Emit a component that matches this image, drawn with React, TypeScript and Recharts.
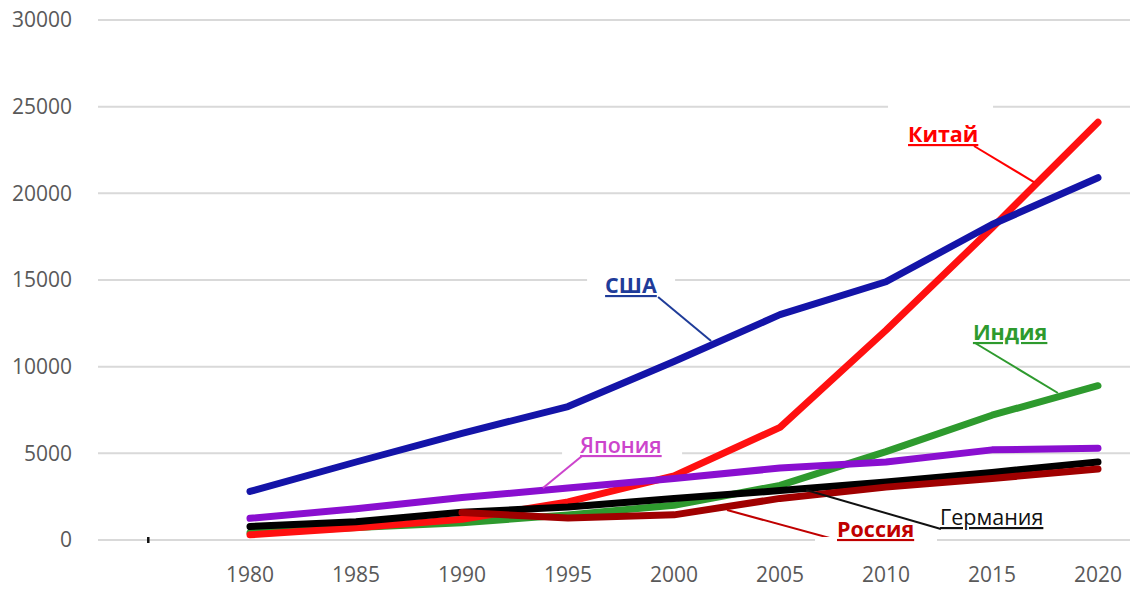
import { LineChart, Line, XAxis, YAxis, CartesianGrid, ReferenceLine, ReferenceDot } from 'recharts';

const years = [1980, 1985, 1990, 1995, 2000, 2005, 2010, 2015, 2020];
const usa = [2800, 4500, 6150, 7700, 10300, 13000, 14900, 18200, 20900];
const china = [300, 700, 1200, 2200, 3700, 6500, 12100, 18000, 24100];
const india = [420, 720, 1000, 1450, 2000, 3150, 5100, 7200, 8900];
const japan = [1250, 1800, 2450, 3000, 3550, 4150, 4500, 5200, 5300];
const germany = [780, 1050, 1600, 1900, 2400, 2850, 3350, 3900, 4500];
const russia = [null, null, 1580, 1270, 1450, 2400, 3050, 3550, 4100];
const yTicks = [0, 5000, 10000, 15000, 20000, 25000, 30000];

const data = years.map((year, i) => ({
  year,
  usa: usa[i],
  china: china[i],
  india: india[i],
  japan: japan[i],
  germany: germany[i],
  russia: russia[i],
}));

const FONT = '"Open Sans", sans-serif';

// callout labels: anchor = text start / baseline, leader goes from -> to
const notes = [
  { text: 'США', color: '#1f3c99', weight: 700, x: 1996.75, y: 14250, from: [1999.25, 14020], to: [2001.75, 11480], box: [-18, -19, 88, 12] },
  { text: 'Китай', color: '#ff0000', weight: 700, x: 2011.04, y: 22960, from: [2014.15, 22730], to: [2016.98, 20650], box: [-20, -40, 105, 10] },
  { text: 'Индия', color: '#2e9a2e', weight: 700, x: 2014.1, y: 11540, from: [2014.2, 11365], to: [2018.11, 8480], box: null },
  { text: 'Япония', color: '#cc44cc', weight: 600, x: 1995.57, y: 5020, from: [1995.66, 4846], to: [1993.82, 3000], box: [-18, -3, 120, 6] },
  { text: 'Германия', color: '#111111', weight: 500, x: 2012.55, y: 865, from: [2012.59, 635], to: [2006.23, 2885], box: null },
  { text: 'Россия', color: '#c00000', weight: 700, x: 2007.69, y: 175, from: [2007.69, 0], to: [2002.5, 1730], box: [-22, 0, 122, 7] },
];

function NoteLabel(props: any) {
  const { cx, cy, note } = props;
  return (
    <g>
      {note.box && (
        <rect x={cx + note.box[0]} y={cy + note.box[1]} width={note.box[2]} height={note.box[3]} fill="#ffffff" />
      )}
      <text
        x={cx}
        y={cy}
        fill={note.color}
        fontFamily={FONT}
        fontSize={21.5}
        fontWeight={note.weight}
        style={{ textDecoration: 'underline' }}
      >
        {note.text}
      </text>
    </g>
  );
}

export default function App() {
  return (
    <div style={{ position: 'absolute', left: 0, top: 0, background: '#fff' }}>
      <LineChart width={1133} height={590} data={data} margin={{ top: 20, right: 3, bottom: 0, left: 8 }}>
        <CartesianGrid horizontal vertical={false} stroke="#d9d9d9" strokeWidth={2} />
        <XAxis
          dataKey="year"
          type="number"
          domain={[1972.83, 2021.51]}
          ticks={years}
          allowDataOverflow
          axisLine={false}
          tickLine={false}
          height={50}
          tickMargin={21}
          tick={{ fill: '#595959', fontSize: 21, fontFamily: FONT }}
        />
        <YAxis
          domain={[0, 30000]}
          ticks={yTicks}
          width={90}
          axisLine={false}
          tickLine={false}
          tickMargin={20}
          tick={{ fill: '#595959', fontSize: 21, fontFamily: FONT }}
        />
        <ReferenceDot
          x={1975.19}
          y={0}
          r={2}
          shape={(p: any) => <rect x={p.cx - 1} y={p.cy - 3} width={2.5} height={6} fill="#111" />}
        />
        <Line type="linear" dataKey="india" stroke="#2e9a2e" strokeWidth={7} dot={false} strokeLinecap="round" strokeLinejoin="round" isAnimationActive={false} />
        <Line type="linear" dataKey="china" stroke="#ff1010" strokeWidth={7} dot={false} strokeLinecap="round" strokeLinejoin="round" isAnimationActive={false} />
        <Line type="linear" dataKey="germany" stroke="#000000" strokeWidth={7} dot={false} strokeLinecap="round" strokeLinejoin="round" isAnimationActive={false} />
        <Line type="linear" dataKey="russia" stroke="#a00000" strokeWidth={7} dot={false} strokeLinecap="round" strokeLinejoin="round" isAnimationActive={false} />
        <Line type="linear" dataKey="japan" stroke="#8a0fd0" strokeWidth={7} dot={false} strokeLinecap="round" strokeLinejoin="round" isAnimationActive={false} />
        <Line type="linear" dataKey="usa" stroke="#1414a8" strokeWidth={7} dot={false} strokeLinecap="round" strokeLinejoin="round" isAnimationActive={false} />
        {notes.map((n) => (
          <ReferenceDot key={'d' + n.text} x={n.x} y={n.y} r={1} shape={(p: any) => <NoteLabel {...p} note={n} />} />
        ))}
        {notes.map((n) => (
          <ReferenceLine
            key={'l' + n.text}
            segment={[{ x: n.from[0], y: n.from[1] }, { x: n.to[0], y: n.to[1] }]}
            stroke={n.color}
            strokeWidth={2}
          />
        ))}
      </LineChart>
    </div>
  );
}
